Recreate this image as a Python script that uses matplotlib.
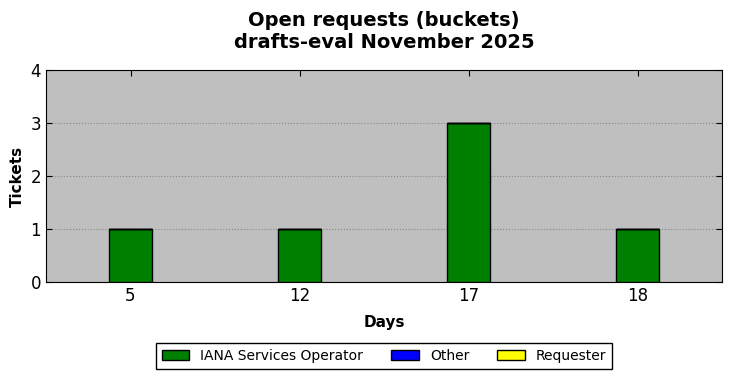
import numpy as np
import matplotlib
matplotlib.use('Agg')
from matplotlib import pyplot as plt

days = ['5', '12', '17', '18']
iana = [1, 1, 3, 1]
other = [0, 0, 0, 0]
requester = [0, 0, 0, 0]

x = np.arange(len(days))
fig, ax = plt.subplots(figsize=(7.32, 3.78), dpi=100)
fig.subplots_adjust(left=46/732, right=722/732, top=1-70/378, bottom=1-282/378)
ax.set_facecolor('#bfbfbf')

w = 0.25
ax.bar(x, iana, w, color='green', edgecolor='black', linewidth=1, label='IANA Services Operator', zorder=3)
ax.bar(x, other, w, bottom=iana, color='blue', edgecolor='black', linewidth=1, label='Other', zorder=3)
bot = np.array(iana) + np.array(other)
ax.bar(x, requester, w, bottom=bot, color='yellow', edgecolor='black', linewidth=1, label='Requester', zorder=3)

ax.set_xlim(-0.5, len(days) - 0.5)
ax.set_ylim(0, 4)
ax.set_xticks(x)
ax.set_xticklabels(days)
ax.set_yticks([0, 1, 2, 3, 4])
ax.tick_params(direction='in', top=True, right=True, labelsize=12, length=4)
ax.yaxis.grid(True, linestyle=':', color='#888888', linewidth=0.8, zorder=0)
ax.set_axisbelow(True)

ax.set_xlabel('Days', fontsize=11, fontweight='bold', labelpad=7)
ax.set_ylabel('Tickets', fontsize=11, fontweight='bold')
ax.set_title('Open requests (buckets)\ndrafts-eval November 2025', fontsize=14, fontweight='bold', pad=16)

leg = ax.legend(loc='upper center', bbox_to_anchor=(0.5, -0.257), ncol=3, fontsize=10,
                fancybox=False, edgecolor='black', framealpha=1, handlelength=2, columnspacing=2.0)
leg.get_frame().set_linewidth(1)

plt.savefig('out.png', dpi=100)
